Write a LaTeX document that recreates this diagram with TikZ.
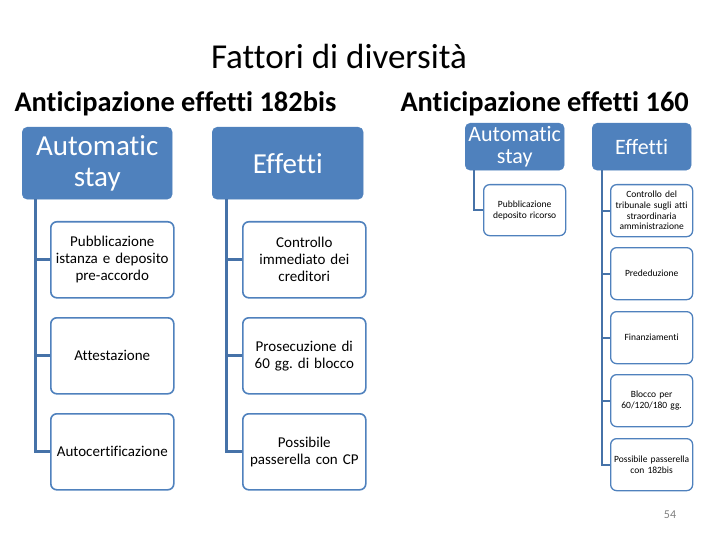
\documentclass[tikz,border=0pt]{standalone}
\usepackage{fontspec}
\setmainfont[Ligatures=NoCommon]{Carlito}
\usetikzlibrary{positioning}
\definecolor{hdrblue}{HTML}{4F81BD}
\definecolor{linkblue}{HTML}{4672A8}
\frenchspacing
\tikzset{
  hdr/.style={draw=hdrblue,fill=hdrblue,rounded corners=5pt,text=white,align=center,anchor=north west,inner sep=0pt},
  leaf/.style={draw=hdrblue,line width=1.6pt,fill=white,rounded corners=6pt,align=center,anchor=north west,inner sep=0pt},
  bigleaf/.style={leaf,minimum height=76pt,text width=122pt,font=\fontsize{15}{17}\selectfont},
  smallleaf/.style={leaf,line width=1.3pt,minimum width=82pt,minimum height=52pt,text width=82pt,font=\fontsize{9.5}{10.7}\selectfont},
  conn/.style={draw=linkblue,line width=3pt},
  thinconn/.style={draw=linkblue,line width=2.2pt}
}
\begin{document}
\begin{tikzpicture}[x=1pt,y=-1pt]
\useasboundingbox (0,0) rectangle (720,540);
\node[font=\fontsize{35}{40}\selectfont] (title) at (339,56) {Fattori di diversità};
\node[anchor=west,font=\fontsize{28.4}{32}\selectfont\bfseries] (headL) at (11,104) {Anticipazione effetti 182bis};
\node[anchor=west,font=\fontsize{28.4}{32}\selectfont\bfseries] (headR) at (397,104) {Anticipazione effetti 160};

% 182bis
\node[hdr,minimum width=150pt,minimum height=72pt,font=\fontsize{29}{31}\selectfont] (autoL) at (22,127) {Automatic\\stay};
\node[hdr,minimum width=151pt,minimum height=72pt,font=\fontsize{29}{31}\selectfont] (effL) at (212,127) {Effetti};
\node[bigleaf,minimum width=123pt] (a1) at (50,221) {Pubblicazione\\istanza e deposito\\pre-accordo};
\node[bigleaf,minimum width=123pt] (a2) at (50,317) {Attestazione};
\node[bigleaf,minimum width=123pt] (a3) at (50,413) {Autocertificazione};
\node[bigleaf,minimum width=123pt] (e1) at (242,221) {Controllo\\immediato dei\\creditori};
\node[bigleaf,minimum width=123pt] (e2) at (242,317) {Prosecuzione di\\60 gg. di blocco};
\node[bigleaf,minimum width=123pt] (e3) at (242,413) {Possibile\\passerella con CP};
\foreach \k in {a1,a2,a3}
  \draw[conn] ([xshift=13pt]autoL.south west) |- (\k.west);
\foreach \k in {e1,e2,e3}
  \draw[conn] ([xshift=14pt]effL.south west) |- (\k.west);

% 160
\node[hdr,minimum width=99pt,minimum height=47pt,font=\fontsize{22}{22}\selectfont] (autoR) at (465,123) {Automatic\\stay};
\node[hdr,minimum width=99pt,minimum height=47pt,font=\fontsize{22}{22}\selectfont] (effR) at (592,123) {Effetti};
\node[smallleaf,minimum height=51pt] (b1) at (483,184) {Pubblicazione\\deposito ricorso};
\node[smallleaf] (f1) at (610,184) {Controllo del\\tribunale sugli atti\\straordinaria\\amministrazione};
\node[smallleaf] (f2) at (610,247) {Prededuzione};
\node[smallleaf] (f3) at (610,311) {Finanziamenti};
\node[smallleaf] (f4) at (610,374) {Blocco per\\60/120/180 gg.};
\node[smallleaf] (f5) at (610,438) {Possibile passerella\\con 182bis};
\draw[thinconn] ([xshift=9pt]autoR.south west) |- (b1.west);
\foreach \k in {f1,f2,f3,f4,f5}
  \draw[thinconn] ([xshift=10pt]effR.south west) |- (\k.west);

\node[text=gray,font=\fontsize{12}{14}\selectfont] (page) at (670,515) {54};
\end{tikzpicture}
\end{document}
